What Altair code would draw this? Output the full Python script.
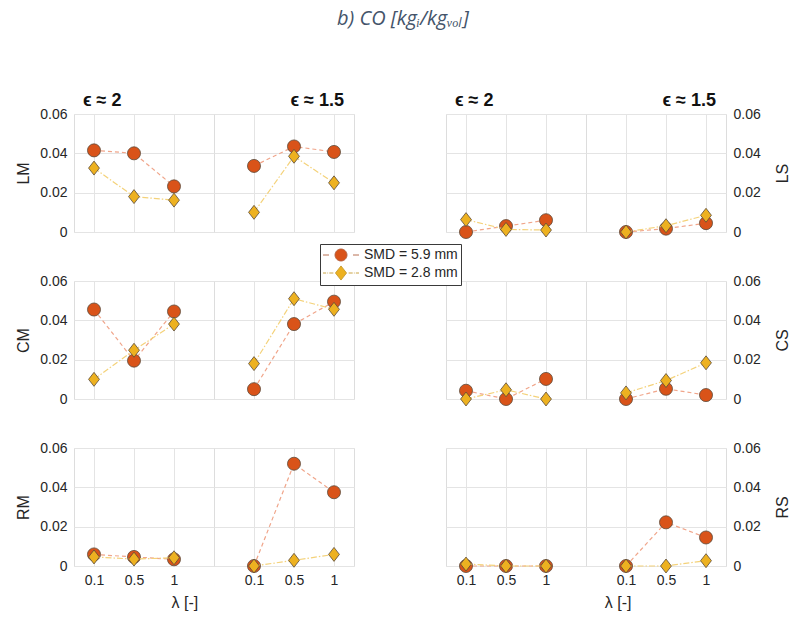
import altair as alt
import pandas as pd

# ---------------- data ----------------
lam_pos = [1, 2, 3]
lam_labels = ["0.1", "0.5", "1"]
eps_titles = ["ϵ ≈ 2", "ϵ ≈ 1.5"]
rows_left = ["LM", "CM", "RM"]
rows_right = ["LS", "CS", "RS"]
smd_labels = ["SMD = 5.9 mm", "SMD = 2.8 mm"]

LM_e2_59 = [0.0415, 0.0400, 0.0232]
LM_e2_28 = [0.0325, 0.0180, 0.0162]
LM_e15_59 = [0.0336, 0.0435, 0.0407]
LM_e15_28 = [0.0100, 0.0385, 0.0250]
LS_e2_59 = [0.0000, 0.0030, 0.0060]
LS_e2_28 = [0.0063, 0.0013, 0.0010]
LS_e15_59 = [0.0000, 0.0017, 0.0045]
LS_e15_28 = [0.0000, 0.0032, 0.0085]
CM_e2_59 = [0.0455, 0.0195, 0.0445]
CM_e2_28 = [0.0100, 0.0248, 0.0381]
CM_e15_59 = [0.0050, 0.0381, 0.0495]
CM_e15_28 = [0.0180, 0.0510, 0.0456]
CS_e2_59 = [0.0042, 0.0000, 0.0102]
CS_e2_28 = [0.0000, 0.0047, 0.0000]
CS_e15_59 = [0.0000, 0.0052, 0.0020]
CS_e15_28 = [0.0031, 0.0094, 0.0184]
RM_e2_59 = [0.0059, 0.0046, 0.0034]
RM_e2_28 = [0.0046, 0.0035, 0.0042]
RM_e15_59 = [0.0000, 0.0520, 0.0375]
RM_e15_28 = [0.0000, 0.0029, 0.0059]
RS_e2_59 = [0.0000, 0.0000, 0.0000]
RS_e2_28 = [0.0010, 0.0000, 0.0000]
RS_e15_59 = [0.0000, 0.0222, 0.0145]
RS_e15_28 = [0.0000, 0.0000, 0.0027]

series = {
    ("LM", 0): (LM_e2_59, LM_e2_28), ("LM", 1): (LM_e15_59, LM_e15_28),
    ("LS", 0): (LS_e2_59, LS_e2_28), ("LS", 1): (LS_e15_59, LS_e15_28),
    ("CM", 0): (CM_e2_59, CM_e2_28), ("CM", 1): (CM_e15_59, CM_e15_28),
    ("CS", 0): (CS_e2_59, CS_e2_28), ("CS", 1): (CS_e15_59, CS_e15_28),
    ("RM", 0): (RM_e2_59, RM_e2_28), ("RM", 1): (RM_e15_59, RM_e15_28),
    ("RS", 0): (RS_e2_59, RS_e2_28), ("RS", 1): (RS_e15_59, RS_e15_28),
}

records = []
for (loc, e), pair in series.items():
    for s, vals in enumerate(pair):
        for i, v in enumerate(vals):
            records.append({"loc": loc, "eps": e, "lam": lam_pos[i],
                            "smd": smd_labels[s], "value": v})
df = pd.DataFrame(records)

# ---------------- style ----------------
FONT = "Liberation Sans"
TXT = "#262626"
GRID = "#e4e4e4"
FRAME = "#7a7a7a"
RED = "#d95319"
YEL = "#edb120"
RED_LINE = "#f0a58a"
YEL_LINE = "#f4d27a"
EDGE = "#5a4a3a"
PANEL_W = 140
PANEL_H = 118

DIAMOND = "M0,-1 L0.78,0 L0,1 L-0.78,0 Z"
LEG_CIRCLE = ("M-2.4,0 L-1.6,0 M1.6,0 L2.4,0 "
              "M-0.8,0 A0.8,0.8 0 1,0 0.8,0 A0.8,0.8 0 1,0 -0.8,0 Z")
LEG_DIAMOND = ("M-2.4,0 L-1.98,0 M-1.82,0 L-1.72,0 M-1.56,0 L-1.02,0 "
               "M1.02,0 L1.56,0 M1.72,0 L1.82,0 M1.98,0 L2.4,0 "
               "M0,-0.94 L0.74,0 L0,0.94 L-0.74,0 Z")

label_expr = " : ".join(
    f"datum.value == {p} ? '{l}'" for p, l in zip(lam_pos[:-1], lam_labels[:-1])
) + f" : '{lam_labels[-1]}'"


def legend_params():
    return alt.Legend(
        title=None, orient="none", legendX=246, legendY=130,
        direction="vertical", strokeColor="#3a3a3a", fillColor="white",
        padding=3, labelFontSize=14, labelFont=FONT, labelColor=TXT,
        symbolSize=225, symbolStrokeWidth=0.9, symbolOpacity=1,
        rowPadding=1, symbolOffset=10, labelOffset=15, cornerRadius=0,
    )


def panel(loc, e, right_group, row_idx):
    dom = [0.5, 4.0] if e == 0 else [0.0, 3.5]
    show_x = row_idx == 2
    xaxis = alt.Axis(values=lam_pos, labelExpr=label_expr, labels=show_x,
                     ticks=False, domain=False, grid=True, gridColor=GRID,
                     title=None, labelFontSize=14, labelFont=FONT,
                     labelColor=TXT, labelPadding=7)
    has_y = (not right_group and e == 0) or (right_group and e == 1)
    if has_y:
        yaxis = alt.Axis(values=[0, 0.02, 0.04, 0.06], format=".2~f",
                         orient="right" if right_group else "left",
                         ticks=False, domain=False, grid=True, gridColor=GRID,
                         labelFontSize=14, labelFont=FONT, labelColor=TXT,
                         labelPadding=7, title=loc, titleFontSize=16,
                         titleFont=FONT, titleFontWeight="normal",
                         titleColor=TXT, titleAngle=270,
                         titleBaseline="top" if right_group else "bottom",
                         titlePadding=14 if right_group else 8)
    else:
        yaxis = alt.Axis(values=[0, 0.02, 0.04, 0.06], labels=False,
                         ticks=False, domain=False, grid=True,
                         gridColor=GRID, title=None)
    x = alt.X("lam:Q", scale=alt.Scale(domain=dom, nice=False, zero=False),
              axis=xaxis)
    y = alt.Y("value:Q", scale=alt.Scale(domain=[0, 0.06], nice=False),
              axis=yaxis)
    base = alt.Chart(df).transform_filter(
        (alt.datum.loc == loc) & (alt.datum.eps == e))
    red = base.transform_filter(alt.datum.smd == smd_labels[0])
    yel = base.transform_filter(alt.datum.smd == smd_labels[1])
    layers = [
        red.mark_line(color=RED_LINE, strokeDash=[4, 3], strokeWidth=1.2,
                      clip=False).encode(x=x, y=y),
        red.mark_point(shape="circle", size=170, filled=True, color=RED,
                       stroke=EDGE, strokeWidth=0.8, opacity=1,
                       clip=False).encode(x=x, y=y),
        yel.mark_line(color=YEL_LINE, strokeDash=[6, 2, 1.5, 2],
                      strokeWidth=1.2, clip=False).encode(x=x, y=y),
        yel.mark_point(shape=DIAMOND, size=195, filled=True, color=YEL,
                       stroke=EDGE, strokeWidth=0.8, opacity=1,
                       clip=False).encode(x=x, y=y),
    ]
    if row_idx == 0 and not right_group and e == 0:
        dummy = alt.Chart(df).transform_filter("false").mark_point(
            filled=True, opacity=1).encode(
            x=x, y=y,
            shape=alt.Shape("smd:N", scale=alt.Scale(
                domain=smd_labels, range=[LEG_CIRCLE, LEG_DIAMOND]),
                legend=legend_params()),
            fill=alt.Fill("smd:N", scale=alt.Scale(
                domain=smd_labels, range=[RED, YEL]), legend=legend_params()),
            stroke=alt.Stroke("smd:N", scale=alt.Scale(
                domain=smd_labels, range=["#b0603e", "#c49a30"]),
                legend=legend_params()),
        )
        layers.append(dummy)
    ch = alt.layer(*layers).properties(width=PANEL_W, height=PANEL_H)
    if row_idx == 0:
        ch = ch.properties(title=alt.TitleParams(
            text=eps_titles[e], anchor="start" if e == 0 else "end",
            frame="group", dx=9 if e == 0 else -10,
            fontSize=18, fontWeight="bold", font=FONT, color="#111111",
            offset=-3 if has_y else 4))
    return ch


def group(loc, right_group, row_idx):
    g = alt.hconcat(panel(loc, 0, right_group, row_idx),
                    panel(loc, 1, right_group, row_idx), spacing=0,
                    bounds="flush")
    if row_idx == 2:
        g = g.properties(title=alt.TitleParams(
            text="λ [-]", orient="bottom", anchor="middle", fontSize=16,
            fontWeight="normal", font=FONT, color=TXT, offset=7))
    return g


rows = []
for r in range(3):
    rows.append(alt.hconcat(group(rows_left[r], False, r),
                            group(rows_right[r], True, r), spacing=90))

chart = alt.vconcat(*rows, spacing=31).properties(
    title=alt.TitleParams(text="b) CO [kgᵢ/kgᵥₒₗ]", font="Open Sans",
                          fontStyle="italic", fontWeight="normal",
                          fontSize=20, color="#44546a", anchor="middle",
                          offset=63),
    padding={"left": 15, "top": 8, "right": 2, "bottom": 4},
).configure_view(stroke=FRAME, strokeWidth=1).configure(background="white")

chart.save("out.html", embed_options={"renderer": "svg", "actions": False})
